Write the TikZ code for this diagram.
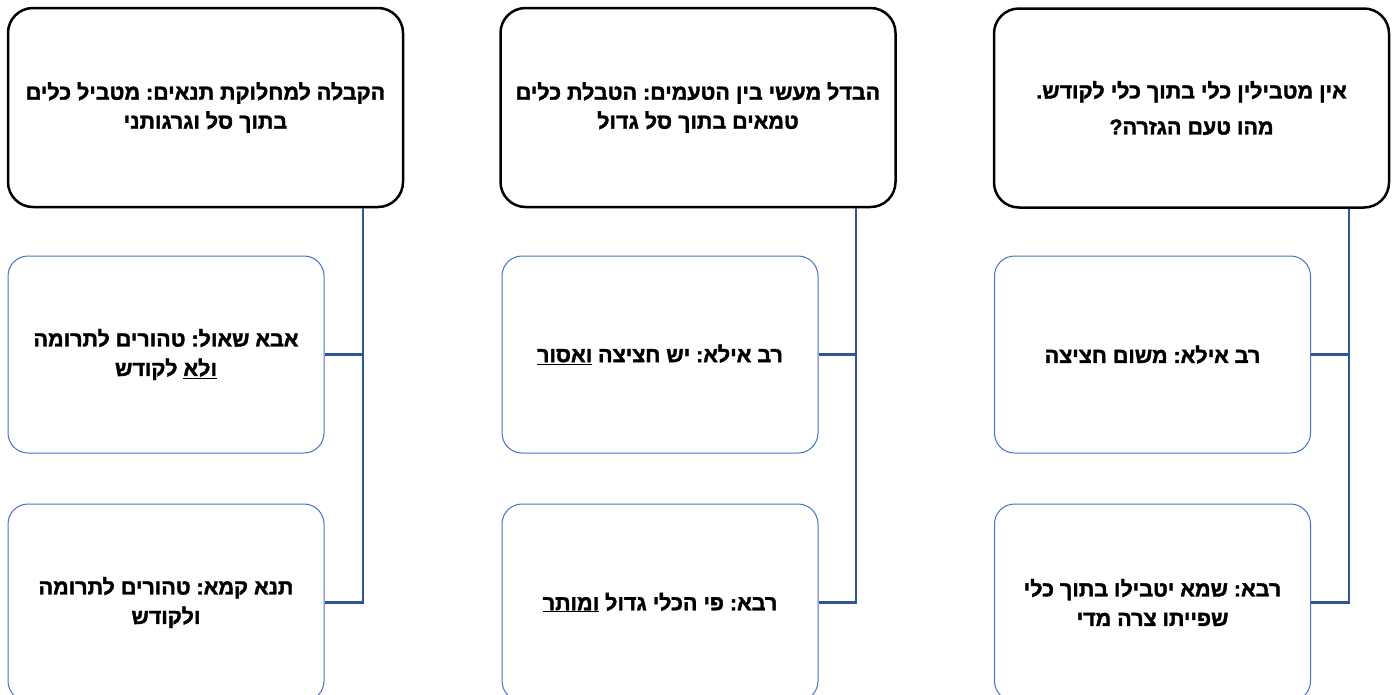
\documentclass[tikz,border=0pt]{standalone}
\usepackage{fontspec}
\newfontfamily\hebfont[Script=Hebrew,FakeBold=1.8]{Liberation Sans Bold}
\TeXXeTstate=1
\definecolor{connblue}{HTML}{2F5597}
\definecolor{boxblue}{HTML}{4472C4}
\newcommand\heb[1]{\beginR #1\endR}
\newcommand\hul[1]{\underline{\beginR #1\endR}}
\tikzset{
  topbox/.style={draw=black, line width=2.5pt, rounded corners=25pt, fill=white,
    minimum width=395pt, minimum height=199pt, align=center, inner sep=0pt,
    font=\hebfont\frenchspacing\fontsize{21.5}{29}\selectfont},
  childbox/.style={draw=boxblue, line width=1pt, rounded corners=20pt, fill=white,
    minimum width=316pt, minimum height=197pt, align=center, inner sep=0pt,
    font=\hebfont\frenchspacing\fontsize{21.5}{29.5}\selectfont},
  conn/.style={draw=connblue, line width=2.5pt}
}
\begin{document}
\begin{tikzpicture}[x=1pt,y=-1pt]
\useasboundingbox (0,0) rectangle (1400,694);
\clip (0,0) rectangle (1400,694);
% top boxes
\node[topbox] (t1) at (205.5,107.5) {\heb{הקבלה למחלוקת תנאים: מטביל כלים}\\\heb{בתוך סל וגרגותני}};
\node[topbox] (t2) at (698,107.5) {\heb{הבדל מעשי בין הטעמים: הטבלת כלים}\\\heb{טמאים בתוך סל גדול}};
\node[topbox] (t3) at (1191.5,108) {\heb{אין מטבילין כלי בתוך כלי לקודש.}\\[7pt]\heb{מהו טעם הגזרה?}};
% child boxes
\node[childbox] (c1a) at (166,354.5) {\heb{אבא שאול: טהורים לתרומה}\\\heb{\hul{ולא} לקודש}};
\node[childbox] (c1b) at (166,602.5) {\heb{תנא קמא: טהורים לתרומה}\\\heb{ולקודש}};
\node[childbox] (c2a) at (660,354.5) {\heb{רב אילא: יש חציצה \hul{ואסור}}};
\node[childbox] (c2b) at (660,602.5) {\heb{רבא: פי הכלי גדול \hul{ומותר}}};
\node[childbox] (c3a) at (1152.5,354.5) {\heb{רב אילא: משום חציצה}};
\node[childbox] (c3b) at (1152.5,602.5) {\heb{רבא: שמא יטבילו בתוך כלי}\\\heb{שפייתו צרה מדי}};
% connector origins
\coordinate (v1) at (363,208);
\coordinate (v2) at (856,208);
\coordinate (v3) at (1349,209);
\draw[conn] (v1) |- (c1a.east);
\draw[conn] (v1) |- (c1b.east);
\draw[conn] (v2) |- (c2a.east);
\draw[conn] (v2) |- (c2b.east);
\draw[conn] (v3) |- (c3a.east);
\draw[conn] (v3) |- (c3b.east);
\end{tikzpicture}
\end{document}
